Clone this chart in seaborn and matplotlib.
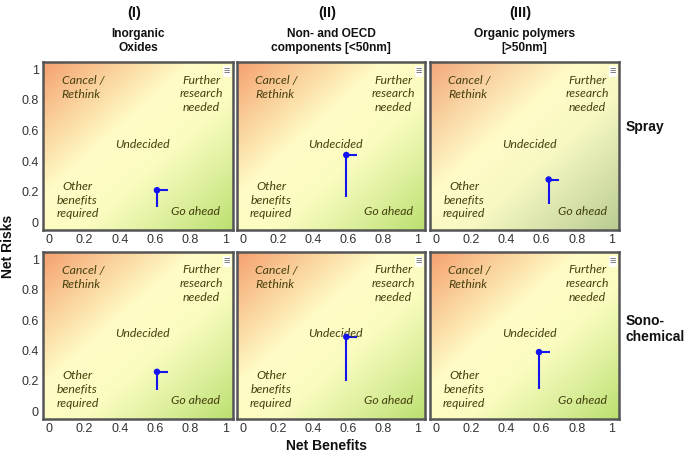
import numpy as np
import pandas as pd
import seaborn as sns
import matplotlib
matplotlib.use("Agg")
from matplotlib import pyplot as plt
from matplotlib.colors import LinearSegmentedColormap

sns.set_theme(style="white")
plt.rcParams['font.family'] = ['Liberation Sans', 'DejaVu Sans']

# columns (material groups) and rows (synthesis method)
roman = ["(I)", "(II)", "(III)"]
groups = ["Inorganic\nOxides", "Non- and OECD\ncomponents [<50nm]", "Organic polymers\n[>50nm]"]
methods = ["Spray", "Sono-\nchemical"]

# one point per panel, row-major (Spray row first)
benefit = [0.61, 0.59, 0.64, 0.61, 0.59, 0.585]
risk = [0.21, 0.44, 0.28, 0.26, 0.49, 0.39]
benefit_hi = [0.67, 0.65, 0.70, 0.67, 0.65, 0.65]
risk_lo = [0.10, 0.165, 0.12, 0.14, 0.20, 0.15]

ticks = [0, 0.2, 0.4, 0.6, 0.8, 1]
tick_labels = ["0", "0.2", "0.4", "0.6", "0.8", "1"]

# region labels inside each panel
regions = ["Cancel /\nRethink", "Further\nresearch\nneeded", "Undecided",
           "Other\nbenefits\nrequired", "Go ahead"]

W, H = 685, 453
fig = plt.figure(figsize=(W / 100, H / 100), dpi=100)

# background gradients (orange -> pale yellow -> green)
cmap_std = LinearSegmentedColormap.from_list(
    "std", ["#f5a070", "#fad09a", "#fffcc6", "#fbfcc0", "#dcef9c", "#bbe070"])
cmap_olive = LinearSegmentedColormap.from_list(
    "olive", ["#f3a67a", "#f9d3a2", "#fffcc8", "#f7f8c2", "#d8e2aa", "#b9cc92"])

gx, gy = np.meshgrid(np.linspace(0, 1, 300), np.linspace(0, 1, 300))
grad = (gx + (1 - gy)) / 2

col_px = [(43, 233), (237, 425), (430, 619)]
row_px = [(62, 230), (252, 419)]
xlim = (-0.035, 1.04)
ylim = (-0.05, 1.048)

df = pd.DataFrame({"benefit": benefit, "risk": risk})

for r, (top, bot) in enumerate(row_px):
    for c, (left, right) in enumerate(col_px):
        i = r * 3 + c
        ax = fig.add_axes([left / W, 1 - bot / H, (right - left) / W, (bot - top) / H])
        cm = cmap_olive if (r == 0 and c == 2) else cmap_std
        ax.imshow(grad, cmap=cm, origin="lower", aspect="auto",
                  extent=[xlim[0], xlim[1], ylim[0], ylim[1]], zorder=0)
        ax.set_xlim(xlim)
        ax.set_ylim(ylim)

        ax.errorbar(benefit[i], risk[i],
                    xerr=[[0], [benefit_hi[i] - benefit[i]]],
                    yerr=[[risk[i] - risk_lo[i]], [0]],
                    fmt="none", ecolor="#1414f0", elinewidth=1.5, capsize=0, zorder=3)
        sns.scatterplot(data=df.iloc[[i]], x="benefit", y="risk", ax=ax,
                        color="#1414f0", s=22, edgecolor="none", zorder=4)

        tc = "#45400f"
        tf = dict(family=["Lato", "DejaVu Sans"], style="italic", fontsize=8.8, color=tc)
        ax.text(0.07, 0.88, regions[0], ha="left", va="center", linespacing=1.3, **tf)
        ax.text(0.86, 0.84, regions[1], ha="center", va="center", linespacing=1.3, **tf)
        ax.text(0.53, 0.51, regions[2], ha="center", va="center", **tf)
        ax.text(0.16, 0.145, regions[3], ha="center", va="center", linespacing=1.3, **tf)
        ax.text(0.83, 0.07, regions[4], ha="center", va="center", **tf)

        # menu icon in the top-right corner
        ax.text(0.985, 0.975, "\u2261", transform=ax.transAxes, ha="right", va="top",
                fontsize=8, color="#666666",
                bbox=dict(boxstyle="square,pad=0.05", fc="white", ec="none"))

        ax.set_xticks(ticks)
        ax.set_xticklabels(tick_labels)
        ax.set_yticks(ticks)
        if c == 0:
            ax.set_yticklabels(tick_labels)
        else:
            ax.set_yticklabels([])
        ax.tick_params(length=0, labelsize=9, labelcolor="#333333", pad=3)
        ax.set_xlabel("")
        ax.set_ylabel("")
        for s in ax.spines.values():
            s.set_color("#555555")
            s.set_linewidth(1.8)

# column headers
for c, (left, right) in enumerate(col_px):
    cx = (left + right) / 2 / W
    fig.text(cx - 0.006, 1 - 13 / H, roman[c], ha="center", va="center",
             fontsize=10.5, fontweight="bold", color="#111111")
    fig.text(cx, 1 - 41 / H, groups[c], ha="center", va="center",
             fontsize=8.6, fontweight="bold", color="#111111", linespacing=1.25)

# row labels
fig.text(626 / W, 1 - 127 / H, methods[0], ha="left", va="center",
         fontsize=10, fontweight="bold", color="#111111")
fig.text(626 / W, 1 - 329 / H, methods[1], ha="left", va="center",
         fontsize=10, fontweight="bold", color="#111111", linespacing=1.1)

fig.text(326 / W, 1 - 446 / H, "Net Benefits", ha="center", va="center",
         fontsize=10, fontweight="bold", color="#111111")
fig.text(8 / W, 1 - 246 / H, "Net Risks", ha="center", va="center", rotation=90,
         fontsize=10, fontweight="bold", color="#111111")

fig.savefig("out.png", dpi=100, facecolor="white")
